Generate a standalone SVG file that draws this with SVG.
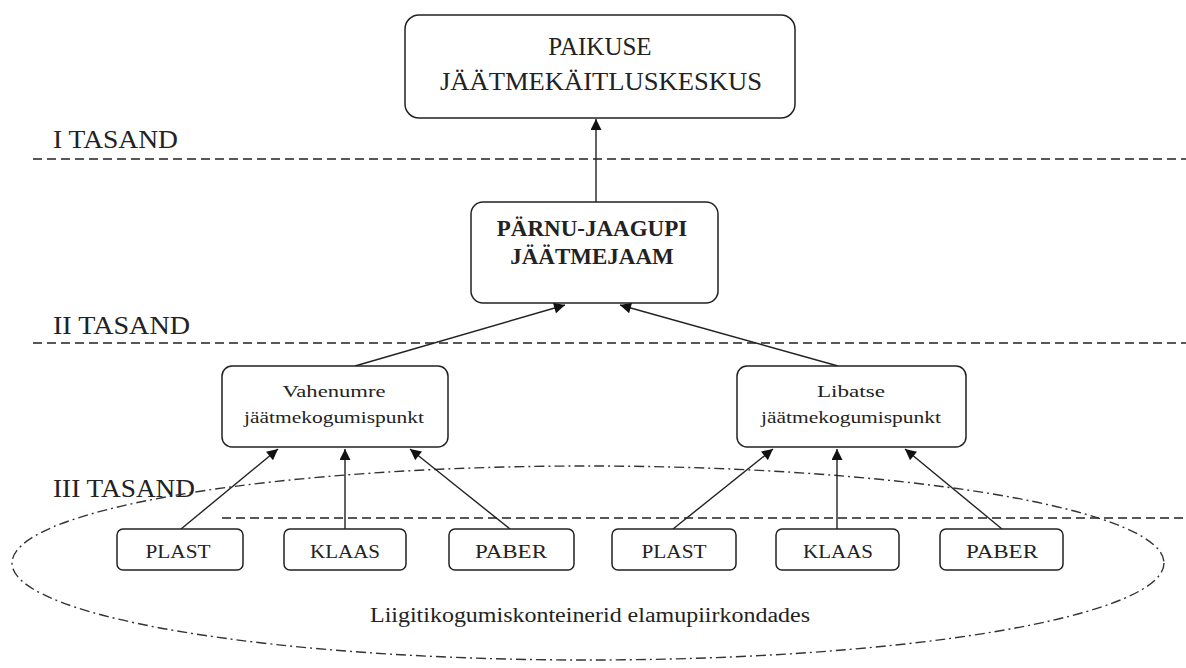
<svg xmlns="http://www.w3.org/2000/svg" width="1186" height="668" viewBox="0 0 1186 668">
<defs>
<marker id="ah" viewBox="0 0 10 10" refX="10" refY="5" markerWidth="12" markerHeight="11" markerUnits="userSpaceOnUse" orient="auto">
<path d="M0,0 L10,5 L0,10 z" fill="#111"/>
</marker>
<style>
.box{fill:#fff;stroke:#222;stroke-width:1.5}
.t{font-family:"Liberation Serif",serif;fill:#222;text-anchor:middle}
.lvl{font-family:"Liberation Serif",serif;fill:#222;font-size:25px}
.dash{stroke:#222;stroke-width:1.5;stroke-dasharray:9 5;fill:none}
.con{stroke:#222;stroke-width:1.4;fill:none;marker-end:url(#ah)}
.ell{stroke:#333;stroke-width:1.4;fill:none;stroke-dasharray:10 4 2 4}
</style>
</defs>
<rect width="1186" height="668" fill="#fff"/>
<g id="levels">
<text class="lvl" x="53" y="148" textLength="125" lengthAdjust="spacingAndGlyphs">I TASAND</text>
<line class="dash" x1="33" y1="159" x2="1186" y2="159"/>
<text class="lvl" x="53" y="334" textLength="137" lengthAdjust="spacingAndGlyphs">II TASAND</text>
<line class="dash" x1="33" y1="343" x2="1186" y2="343"/>
<text class="lvl" x="53" y="497" textLength="142" lengthAdjust="spacingAndGlyphs">III TASAND</text>
<line class="dash" x1="222" y1="518" x2="1186" y2="518"/>
</g>
<ellipse id="ellipse" class="ell" cx="588" cy="563" rx="576" ry="97"/>
<g id="connectors">
<line class="con" x1="596" y1="202" x2="596" y2="119"/>
<line class="con" x1="355" y1="366" x2="565" y2="305"/>
<line class="con" x1="838" y1="366" x2="620" y2="305"/>
<line class="con" x1="181" y1="529" x2="278" y2="449"/>
<line class="con" x1="345" y1="529" x2="345" y2="449"/>
<line class="con" x1="510" y1="529" x2="410" y2="449"/>
<line class="con" x1="673" y1="529" x2="773" y2="449"/>
<line class="con" x1="837" y1="529" x2="837" y2="449"/>
<line class="con" x1="1002" y1="529" x2="905" y2="449"/>
</g>
<g id="n-paikuse">
<rect class="box" x="405" y="15" width="390" height="103" rx="14"/>
<text class="t" x="600" y="55" font-size="25">PAIKUSE</text>
<text class="t" x="601" y="90" font-size="25" textLength="322" lengthAdjust="spacingAndGlyphs">JÄÄTMEKÄITLUSKESKUS</text>
</g>
<g id="n-parnu">
<rect class="box" x="471" y="202" width="247" height="101" rx="12"/>
<text class="t" x="592" y="236" font-size="23" font-weight="bold">PÄRNU-JAAGUPI</text>
<text class="t" x="592" y="264" font-size="23" font-weight="bold">JÄÄTMEJAAM</text>
</g>
<g id="n-vahenumre">
<rect class="box" x="222" y="366" width="226" height="81" rx="10"/>
<text class="t" x="334" y="397" font-size="17" textLength="103" lengthAdjust="spacingAndGlyphs">Vahenumre</text>
<text class="t" x="334" y="423" font-size="17" textLength="180" lengthAdjust="spacingAndGlyphs">jäätmekogumispunkt</text>
</g>
<g id="n-libatse">
<rect class="box" x="737" y="366" width="229" height="81" rx="10"/>
<text class="t" x="851" y="397" font-size="17" textLength="68" lengthAdjust="spacingAndGlyphs">Libatse</text>
<text class="t" x="851" y="423" font-size="17" textLength="180" lengthAdjust="spacingAndGlyphs">jäätmekogumispunkt</text>
</g>
<g id="n-plast1">
<rect class="box" x="117" y="529" width="126" height="41" rx="6"/>
<text class="t" x="178" y="558" font-size="18" textLength="65" lengthAdjust="spacingAndGlyphs">PLAST</text>
</g>
<g id="n-klaas1">
<rect class="box" x="284" y="529" width="122" height="41" rx="6"/>
<text class="t" x="345" y="558" font-size="18" textLength="70" lengthAdjust="spacingAndGlyphs">KLAAS</text>
</g>
<g id="n-paber1">
<rect class="box" x="449" y="529" width="125" height="41" rx="6"/>
<text class="t" x="511" y="558" font-size="18" textLength="72" lengthAdjust="spacingAndGlyphs">PABER</text>
</g>
<g id="n-plast2">
<rect class="box" x="612" y="529" width="124" height="41" rx="6"/>
<text class="t" x="674" y="558" font-size="18" textLength="65" lengthAdjust="spacingAndGlyphs">PLAST</text>
</g>
<g id="n-klaas2">
<rect class="box" x="776" y="529" width="123" height="41" rx="6"/>
<text class="t" x="838" y="558" font-size="18" textLength="70" lengthAdjust="spacingAndGlyphs">KLAAS</text>
</g>
<g id="n-paber2">
<rect class="box" x="940" y="529" width="123" height="41" rx="6"/>
<text class="t" x="1002" y="558" font-size="18" textLength="72" lengthAdjust="spacingAndGlyphs">PABER</text>
</g>
<text id="ellipse-label" class="t" x="590" y="622" font-size="20" textLength="440" lengthAdjust="spacingAndGlyphs">Liigitikogumiskonteinerid elamupiirkondades</text>
</svg>
